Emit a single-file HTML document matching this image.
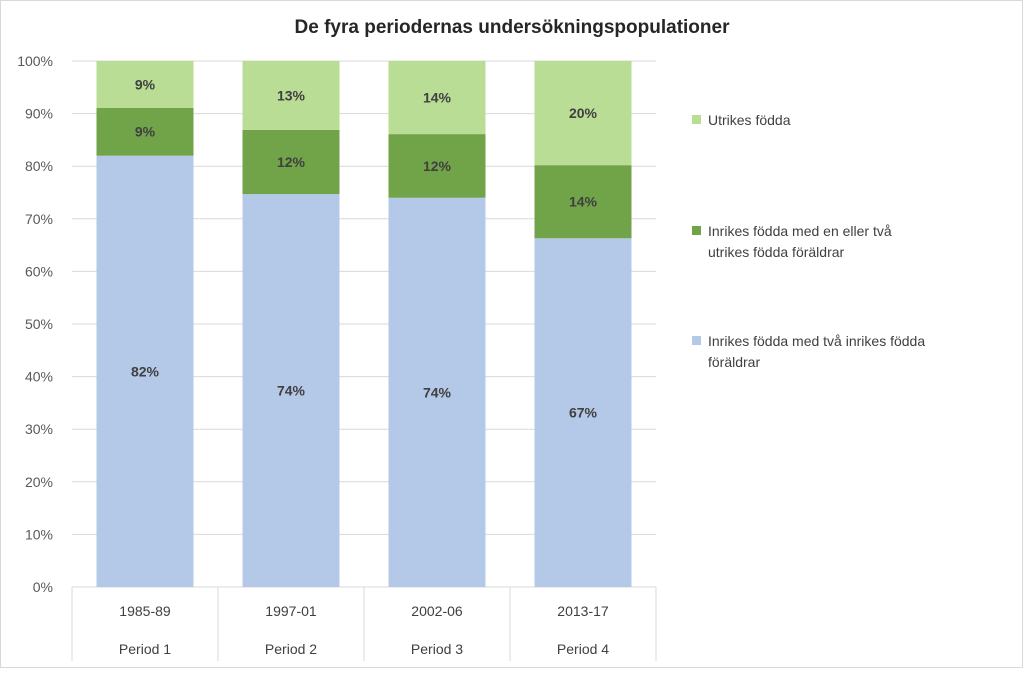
<!DOCTYPE html>
<html><head><meta charset="utf-8"><style>
body{margin:0;background:#fff;font-family:"Liberation Sans",sans-serif}
svg text{font-family:"Liberation Sans",sans-serif}
</style></head><body>
<svg id="c" width="1024" height="669" xmlns="http://www.w3.org/2000/svg">
<rect x="0.5" y="0.5" width="1022" height="667" fill="#fff" stroke="#d9d9d9"/>
<text x="512" y="33" text-anchor="middle" font-size="19" font-weight="bold" fill="#262626">De fyra periodernas undersökningspopulationer</text>
<g id="grid"></g><g id="bars"></g><g id="labels"></g><g id="axis"></g>
<g>
<rect x="692" y="115" width="9" height="9" fill="#b9dd95"/>
<text x="708" y="125" font-size="14" fill="#404040">Utrikes födda</text>
<rect x="692" y="226" width="9" height="9" fill="#71a349"/>
<text x="708" y="236" font-size="14" fill="#404040"><tspan x="708">Inrikes födda med en eller två</tspan><tspan x="708" dy="21">utrikes födda föräldrar</tspan></text>
<rect x="692" y="336" width="9" height="9" fill="#b4c8e8"/>
<text x="708" y="346" font-size="14" fill="#404040"><tspan x="708">Inrikes födda med två inrikes födda</tspan><tspan x="708" dy="21">föräldrar</tspan></text>
</g>
</svg>
<script>
const categories=["1985-89","1997-01","2002-06","2013-17"];
const periods=["Period 1","Period 2","Period 3","Period 4"];
const inrikesInrikes=[82,74.7,74,66.3];
const inrikesUtrikes=[9.1,12.2,12.1,13.9];
const utrikes=[8.9,13.1,13.9,19.8];
const labInIn=["82%","74%","74%","67%"];
const labInUt=["9%","12%","12%","14%"];
const labUt=["9%","13%","14%","20%"];
const ticks=[0,10,20,30,40,50,60,70,80,90,100];
const NS="http://www.w3.org/2000/svg";
const L=72,R=656,T=61,B=587,bw=97;
const y=v=>B-(B-T)*v/100;
const cw=(R-L)/categories.length;
const xc=i=>L+cw*(i+0.5);
function mk(t,a,p){const e=document.createElementNS(NS,t);for(const k in a)e.setAttribute(k,a[k]);p.appendChild(e);return e;}
const grid=document.getElementById('grid'),bars=document.getElementById('bars'),labels=document.getElementById('labels'),axis=document.getElementById('axis');
ticks.forEach(t=>{
 const l=mk('line',{x1:L,x2:R,y1:y(t),y2:y(t),stroke:'#d9d9d9'},grid);
 
 
 const tx=mk('text',{x:53,y:y(t)+5,'text-anchor':'end','font-size':14,fill:'#595959'},axis);
 tx.textContent=t+'%';
 
 
});
const series=[[inrikesInrikes,'#b4c8e8',labInIn,'inrikes-inrikes'],[inrikesUtrikes,'#71a349',labInUt,'inrikes-utrikes'],[utrikes,'#b9dd95',labUt,'utrikes']];
categories.forEach((c,i)=>{
 let base=0;
 series.forEach(s=>{
  const v=s[0][i];
  const top=Math.min(base+v,100);
  const r=mk('rect',{x:xc(i)-bw/2,y:y(top),width:bw,height:y(base)-y(top),fill:s[1]},bars);
  
  
  const t=mk('text',{x:xc(i),y:(y(base)+y(top))/2+5,'text-anchor':'middle','font-size':14,'font-weight':'bold',fill:'#404040'},labels);
  t.textContent=s[2][i];
  
  
  base=top;
 });
 const a=mk('text',{x:xc(i),y:616,'text-anchor':'middle','font-size':14,fill:'#404040'},axis);
 a.textContent=c;
 
 
 const p=mk('text',{x:xc(i),y:654,'text-anchor':'middle','font-size':14,fill:'#404040'},axis);
 p.textContent=periods[i];
 
 
});
for(let i=0;i<=categories.length;i++){
 const l=mk('line',{x1:L+cw*i,x2:L+cw*i,y1:B,y2:661,stroke:'#d9d9d9'},axis);
 
 
}
</script>
</body></html>
